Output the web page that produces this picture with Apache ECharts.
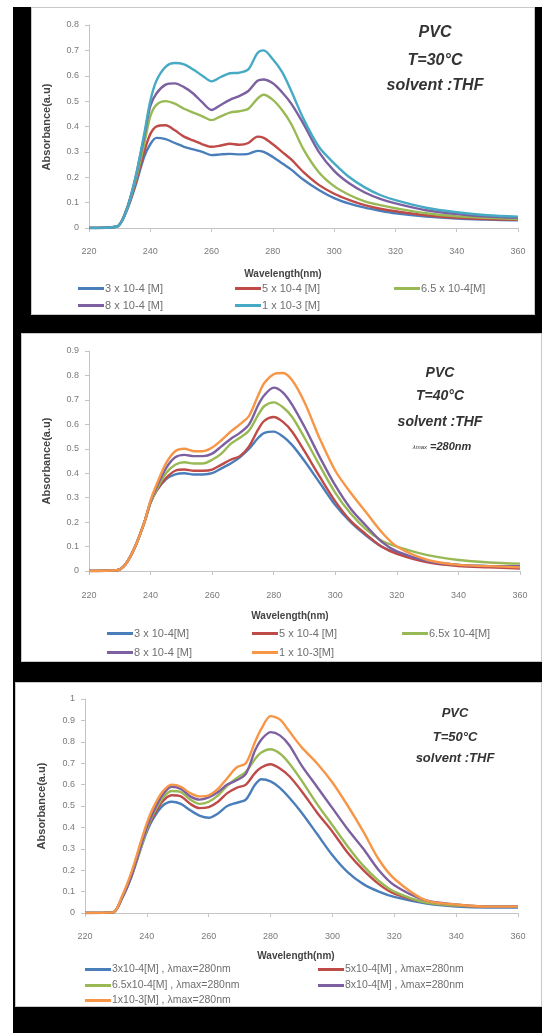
<!DOCTYPE html>
<html>
<head>
<meta charset="utf-8">
<script src="https://cdn.jsdelivr.net/npm/echarts@6/dist/echarts.min.js"></script>
<style>
  html, body { margin: 0; padding: 0; background: #fff; }
  #frame { position: absolute; left: 13px; top: 7px; width: 529px; height: 1026px; background: #000; }
  .panel { position: absolute; background: #fff; box-sizing: border-box; border: 1px solid #c9c9c9; }
</style>
</head>
<body>
<div id="frame"></div>
<div id="p30" class="panel" style="left:31px;top:7px;width:504px;height:308px"></div>
<div id="p40" class="panel" style="left:21px;top:333px;width:521px;height:329px"></div>
<div id="p50" class="panel" style="left:15px;top:682px;width:527px;height:325px"></div>
<script>
// wavelengths (nm) shared by all spectra
const wavelengths = [220, 229, 232, 235, 238, 240, 242, 245, 248, 251, 254, 257, 260, 263, 266, 269, 272, 275, 277, 280, 283, 286, 290, 295, 300, 305, 310, 315, 320, 330, 340, 350, 360];
const xTicks = [220, 240, 260, 280, 300, 320, 340, 360];

// T = 30 C
const names30 = ['3 x 10-4 [M]', '5 x 10-4 [M]', '6.5 x 10-4[M]', '8 x 10-4 [M]', '1 x 10-3 [M]'];
const abs30_3 = [0, 0.005, 0.06, 0.16, 0.28, 0.33, 0.355, 0.35, 0.335, 0.32, 0.31, 0.3, 0.287, 0.29, 0.292, 0.29, 0.292, 0.304, 0.3, 0.28, 0.255, 0.23, 0.19, 0.15, 0.118, 0.096, 0.08, 0.068, 0.058, 0.045, 0.037, 0.033, 0.03];
const abs30_5 = [0, 0.005, 0.06, 0.17, 0.3, 0.37, 0.4, 0.405, 0.385, 0.36, 0.345, 0.33, 0.32, 0.325, 0.332, 0.328, 0.335, 0.36, 0.355, 0.33, 0.3, 0.27, 0.22, 0.17, 0.135, 0.11, 0.09, 0.076, 0.066, 0.05, 0.04, 0.035, 0.032];
const abs30_65 = [0, 0.005, 0.065, 0.18, 0.33, 0.44, 0.485, 0.5, 0.49, 0.47, 0.455, 0.44, 0.425, 0.44, 0.455, 0.46, 0.47, 0.51, 0.525, 0.505, 0.465, 0.41, 0.31, 0.22, 0.165, 0.13, 0.105, 0.09, 0.078, 0.058, 0.046, 0.04, 0.035];
const abs30_8 = [0, 0.005, 0.065, 0.19, 0.36, 0.48, 0.53, 0.565, 0.57, 0.555, 0.53, 0.495, 0.465, 0.485, 0.505, 0.52, 0.54, 0.58, 0.585, 0.57, 0.535, 0.49, 0.41, 0.3, 0.225, 0.175, 0.14, 0.115, 0.097, 0.07, 0.055, 0.045, 0.04];
const abs30_10 = [0, 0.005, 0.06, 0.19, 0.37, 0.5, 0.58, 0.635, 0.65, 0.645, 0.625, 0.6, 0.578, 0.595, 0.61, 0.612, 0.625, 0.69, 0.7, 0.665, 0.615, 0.54, 0.43, 0.32, 0.255, 0.2, 0.16, 0.13, 0.11, 0.08, 0.062, 0.05, 0.045];

// T = 40 C
const names40 = ['3 x 10-4[M]', '5 x 10-4 [M]', '6.5x 10-4[M]', '8 x 10-4 [M]', '1 x 10-3[M]'];
const abs40_3 = [0, 0.003, 0.03, 0.1, 0.2, 0.28, 0.33, 0.375, 0.395, 0.4, 0.395, 0.395, 0.4, 0.42, 0.44, 0.465, 0.5, 0.545, 0.565, 0.57, 0.55, 0.515, 0.45, 0.36, 0.27, 0.2, 0.145, 0.1, 0.075, 0.04, 0.025, 0.02, 0.015];
const abs40_5 = [0, 0.003, 0.03, 0.1, 0.2, 0.28, 0.33, 0.38, 0.41, 0.415, 0.41, 0.41, 0.415, 0.435, 0.455, 0.47, 0.51, 0.58, 0.615, 0.63, 0.61, 0.57, 0.49, 0.385, 0.285, 0.205, 0.15, 0.1, 0.07, 0.035, 0.02, 0.015, 0.01];
const abs40_65 = [0, 0.003, 0.03, 0.1, 0.2, 0.28, 0.335, 0.4, 0.435, 0.445, 0.44, 0.44, 0.455, 0.48, 0.52, 0.545, 0.575, 0.64, 0.675, 0.69, 0.67, 0.63, 0.545, 0.43, 0.32, 0.235, 0.17, 0.125, 0.1, 0.065, 0.045, 0.035, 0.03];
const abs40_8 = [0, 0.003, 0.03, 0.1, 0.2, 0.285, 0.345, 0.42, 0.465, 0.475, 0.47, 0.47, 0.48, 0.51, 0.54, 0.565, 0.6, 0.68, 0.72, 0.75, 0.73, 0.68, 0.59, 0.465, 0.35, 0.255, 0.185, 0.12, 0.08, 0.04, 0.025, 0.02, 0.02];
const abs40_10 = [0, 0.003, 0.03, 0.1, 0.2, 0.29, 0.355, 0.44, 0.49, 0.5, 0.49, 0.49, 0.505, 0.535, 0.57, 0.6, 0.635, 0.72, 0.77, 0.805, 0.81, 0.78, 0.69, 0.54, 0.41, 0.32, 0.24, 0.16, 0.1, 0.045, 0.025, 0.02, 0.015];

// T = 50 C
const names50 = ['3x10-4[M] , λmax=280nm', '5x10-4[M] , λmax=280nm', '6.5x10-4[M] , λmax=280nm', '8x10-4[M] , λmax=280nm', '1x10-3[M] , λmax=280nm'];
const abs50_3 = [0, 0.003, 0.07, 0.17, 0.3, 0.38, 0.44, 0.5, 0.52, 0.51, 0.48, 0.455, 0.445, 0.465, 0.5, 0.515, 0.53, 0.6, 0.625, 0.615, 0.585, 0.54, 0.47, 0.37, 0.27, 0.19, 0.135, 0.1, 0.075, 0.045, 0.03, 0.025, 0.025];
const abs50_5 = [0, 0.003, 0.075, 0.18, 0.31, 0.39, 0.45, 0.52, 0.55, 0.545, 0.51, 0.49, 0.495, 0.52, 0.56, 0.585, 0.6, 0.655, 0.68, 0.695, 0.675, 0.64, 0.57, 0.47, 0.38, 0.28, 0.2, 0.135, 0.09, 0.05, 0.035, 0.03, 0.03];
const abs50_65 = [0, 0.003, 0.07, 0.17, 0.3, 0.39, 0.46, 0.535, 0.57, 0.565, 0.53, 0.51, 0.52, 0.55, 0.595, 0.63, 0.66, 0.72, 0.75, 0.765, 0.745, 0.7, 0.62, 0.51, 0.41, 0.31, 0.22, 0.15, 0.1, 0.05, 0.035, 0.03, 0.03];
const abs50_8 = [0, 0.003, 0.07, 0.17, 0.31, 0.4, 0.47, 0.55, 0.59, 0.58, 0.545, 0.53, 0.54, 0.565, 0.6, 0.62, 0.65, 0.76, 0.81, 0.845, 0.83, 0.785, 0.69, 0.59, 0.49, 0.39, 0.3, 0.2, 0.13, 0.06, 0.04, 0.03, 0.03];
const abs50_10 = [0, 0.003, 0.08, 0.19, 0.33, 0.42, 0.49, 0.565, 0.6, 0.59, 0.56, 0.545, 0.55, 0.58, 0.63, 0.68, 0.7, 0.8, 0.86, 0.92, 0.905, 0.85, 0.775, 0.7, 0.61, 0.5, 0.38, 0.25, 0.16, 0.06, 0.04, 0.03, 0.03];

const FONT = '"Liberation Sans", Arial, sans-serif';
const excelColors = ['#4a7ebb', '#be4b48', '#98b954', '#7d60a0', '#46aac5'];
const excelColorsOrange = ['#4a7ebb', '#be4b48', '#98b954', '#7d60a0', '#f79646'];

function makeChart(id, cfg) {
  const chart = echarts.init(document.getElementById(id));
  const series = cfg.names.map((n, i) => ({
    name: n,
    type: 'line',
    symbol: 'none',
    smooth: 0.3,
    data: wavelengths.map((w, k) => [w, cfg.values[i][k]]),
    lineStyle: { width: 2.4, color: cfg.colors[i] },
    itemStyle: { color: cfg.colors[i] },
    z: 2
  }));

  // one legend per entry so the entries sit in Excel-like columns
  const legends = cfg.names.map((n, i) => ({
    left: cfg.legendSlots[i][0],
    top: cfg.legendSlots[i][1],
    itemWidth: 26,
    itemHeight: 3,
    icon: 'rect',
    selectedMode: false,
    padding: 0,
    data: [n],
    textStyle: { fontFamily: FONT, fontSize: cfg.legendFont, color: '#6f6f6f', padding: [0, 0, 0, -4] }
  }));

  const texts = cfg.notes.map(t => ({
    type: 'text',
    x: t.x, y: t.y,
    style: {
      text: t.text,
      fontFamily: FONT,
      fontSize: t.size,
      fontStyle: 'italic',
      fontWeight: 'bold',
      fill: '#333',
      textAlign: 'center', align: 'center',
      textVerticalAlign: 'middle', verticalAlign: 'middle',
      rich: t.rich
    }
  }));
  texts.push({
    type: 'text', x: cfg.xTitle[0], y: cfg.xTitle[1],
    style: { text: 'Wavelength(nm)', fontFamily: FONT, fontSize: 10, fontWeight: 'bold', fill: '#444',
      textAlign: 'center', align: 'center', textVerticalAlign: 'middle', verticalAlign: 'middle' }
  });
  texts.push({
    type: 'text', x: cfg.yTitle[0], y: cfg.yTitle[1], rotation: Math.PI / 2,
    style: { text: 'Absorbance(a.u)', fontFamily: FONT, fontSize: 11, fontWeight: 'bold', fill: '#444',
      textAlign: 'center', align: 'center', textVerticalAlign: 'middle', verticalAlign: 'middle' }
  });

  chart.setOption({
    animation: false,
    grid: cfg.grid,
    xAxis: {
      type: 'value', min: xTicks[0], max: xTicks[xTicks.length - 1], interval: 20,
      axisLine: { show: true, lineStyle: { color: '#c4c4c4', width: 1 } },
      axisTick: { show: true, length: 4, lineStyle: { color: '#c4c4c4' } },
      axisLabel: { fontFamily: FONT, fontSize: 9, color: '#7a7a7a', margin: cfg.xLabelMargin },
      splitLine: { show: false }
    },
    yAxis: {
      type: 'value', min: 0, max: cfg.yMax, interval: 0.1,
      axisLine: { show: true, lineStyle: { color: '#c4c4c4', width: 1 } },
      axisTick: { show: true, length: 4, lineStyle: { color: '#c4c4c4' } },
      axisLabel: { fontFamily: FONT, fontSize: 9, color: '#7a7a7a', margin: 10 },
      splitLine: { show: false }
    },
    legend: legends,
    graphic: texts,
    series: series
  });
  return chart;
}

makeChart('p30', {
  names: names30,
  values: [abs30_3, abs30_5, abs30_65, abs30_8, abs30_10],
  colors: excelColors,
  yMax: 0.8,
  grid: { left: 57, right: 16, top: 17, bottom: 86 },
  xLabelMargin: 19,
  legendFont: 11,
  legendSlots: [[46, 275], [203, 275], [362, 275], [46, 292], [203, 292]],
  xTitle: [251, 266],
  yTitle: [15, 119],
  notes: [
    { text: 'PVC', x: 403, y: 25, size: 16 },
    { text: 'T=30°C', x: 403, y: 53, size: 16 },
    { text: 'solvent :THF', x: 403, y: 78, size: 16 }
  ]
});

makeChart('p40', {
  names: names40,
  values: [abs40_3, abs40_5, abs40_65, abs40_8, abs40_10],
  colors: excelColorsOrange,
  yMax: 0.9,
  grid: { left: 67, right: 21, top: 17, bottom: 90 },
  xLabelMargin: 20,
  legendFont: 11,
  legendSlots: [[85, 294], [230, 294], [380, 294], [85, 313], [230, 313]],
  xTitle: [268, 282],
  yTitle: [25, 127],
  notes: [
    { text: 'PVC', x: 418, y: 39, size: 14 },
    { text: 'T=40°C', x: 418, y: 62, size: 14 },
    { text: 'solvent :THF', x: 418, y: 88, size: 14 },
    { text: '{a|λmax} {b|=280nm}', x: 420, y: 113, size: 11,
      rich: { a: { fontSize: 6, fontFamily: FONT, fontStyle: 'italic', fill: '#333' },
              b: { fontSize: 11, fontFamily: FONT, fontStyle: 'italic', fontWeight: 'bold', fill: '#333' } } }
  ]
});

makeChart('p50', {
  names: names50,
  values: [abs50_3, abs50_5, abs50_65, abs50_8, abs50_10],
  colors: excelColorsOrange,
  yMax: 1,
  grid: { left: 69, right: 23, top: 16, bottom: 93 },
  xLabelMargin: 19,
  legendFont: 10.5,
  legendSlots: [[69, 281], [302, 281], [69, 297], [302, 297], [69, 312]],
  xTitle: [280, 273],
  yTitle: [26, 123],
  notes: [
    { text: 'PVC', x: 439, y: 30, size: 13 },
    { text: 'T=50°C', x: 439, y: 54, size: 13 },
    { text: 'solvent :THF', x: 439, y: 75, size: 13 }
  ]
});
</script>
</body>
</html>
